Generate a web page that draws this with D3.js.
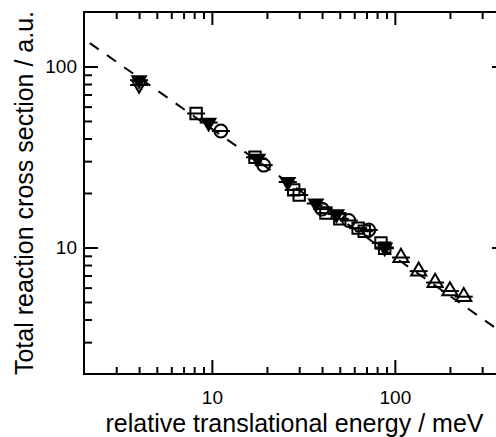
<!DOCTYPE html>
<html>
<head>
<meta charset="utf-8">
<script src="https://cdn.jsdelivr.net/npm/d3@7"></script>
<style>
  body { margin: 0; background: #fff; }
  svg { display: block; font-family: "Liberation Sans", Arial, sans-serif; }
</style>
</head>
<body>
<div id="chart"></div>
<script>
// energies in meV, cross sections in a.u.
const downFilledE = [4.0, 9.6, 17.8, 26, 37, 48, 88]
const downFilledS = [84, 49, 31, 23, 17.5, 15.3, 10.0]
const downOpenE = [4.0]
const downOpenS = [79]
const squareE = [8.2, 17.2, 28, 30, 42, 50, 63, 68, 84, 88]
const squareS = [55, 31.5, 20.8, 19.5, 15.5, 14.4, 12.8, 12.3, 10.6, 9.9]
const circleE = [11.2, 19.2, 40, 56, 72]
const circleS = [44, 28.5, 16.3, 14.1, 12.5]
const upOpenE = [108, 135, 166, 200, 238]
const upOpenS = [8.8, 7.4, 6.4, 5.75, 5.35]

// dashed fit line endpoints
const fitE = [2.15, 400]
const fitS = [134.7, 3.3]

const xMajor = [10, 100]
const xMinor = [3, 4, 5, 6, 7, 8, 9, 20, 30, 40, 50, 60, 70, 80, 90, 200, 300]
const yMajor = [10, 100]
const yMinor = [3, 4, 5, 6, 7, 8, 9, 20, 30, 40, 50, 60, 70, 80, 90]

const width = 496, height = 437
const margin = {left: 84, top: 12, right: -9, bottom: 63}
const w = width - margin.left - margin.right
const h = height - margin.top - margin.bottom

const svg = d3.select("#chart").append("svg")
    .attr("width", width)
    .attr("height", height)
    .style("overflow", "hidden")

const g = svg.append("g")
    .attr("transform", `translate(${margin.left}, ${margin.top})`)

const x = d3.scaleLog().domain([2, 400]).range([0, w])
const y = d3.scaleLog().domain([2, 200]).range([h, 0])

function zip(a, b) { return a.map((v, i) => ({e: v, s: b[i]})) }

// clip for the dashed line
g.append("clipPath").attr("id", "clip")
    .append("rect").attr("width", w).attr("height", h)

// axes: major and minor ticks, all pointing inward
function ticks(axis, vals, size, labels) {
    return axis.tickValues(vals).tickSizeInner(size).tickSizeOuter(0)
        .tickFormat(labels ? d3.format("d") : "")
}

const axes = [
    [d3.axisBottom(x), xMajor, -14, true, `translate(0,${h})`, 17],
    [d3.axisBottom(x), xMinor, -7, false, `translate(0,${h})`, 0],
    [d3.axisTop(x), xMajor, -13, false, "translate(0,0)", 0],
    [d3.axisTop(x), xMinor, -7, false, "translate(0,0)", 0],
    [d3.axisLeft(y), yMajor, -14, true, "translate(0,0)", 7],
    [d3.axisLeft(y), yMinor, -8, false, "translate(0,0)", 0],
    [d3.axisRight(y), yMajor, -13, false, `translate(${w},0)`, 0],
    [d3.axisRight(y), yMinor, -7, false, `translate(${w},0)`, 0]
]
axes.forEach(function(a) {
    const ax = g.append("g")
        .attr("transform", a[4])
        .call(ticks(a[0], a[1], a[2], a[3]).tickPadding(a[5]))
    ax.select(".domain").remove()
    ax.selectAll("line").attr("stroke", "#000").attr("stroke-width", 2)
    ax.selectAll("text").attr("fill", "#000").style("font-size", "19px")
})

g.append("rect")
    .attr("width", w).attr("height", h)
    .attr("fill", "none").attr("stroke", "#000").attr("stroke-width", 2)

// fit line
const line = d3.line().x(d => x(d.e)).y(d => y(d.s))
g.append("path")
    .datum(zip(fitE, fitS))
    .attr("clip-path", "url(#clip)")
    .attr("d", line)
    .attr("fill", "none")
    .attr("stroke", "#000")
    .attr("stroke-width", 2)
    .attr("stroke-dasharray", "11,10")

// markers
function drawSeries(es, ss, type, size, filled, rot) {
    const pts = g.append("g").selectAll("g").data(zip(es, ss)).enter().append("g")
        .attr("transform", d => `translate(${x(d.e)},${y(d.s)})`)
    pts.append("line")
        .attr("x1", -9).attr("x2", 9)
        .attr("stroke", "#000").attr("stroke-width", 2)
    pts.append("path")
        .attr("d", d3.symbol().type(type).size(size))
        .attr("transform", `rotate(${rot})`)
        .attr("fill", filled ? "#000" : "none")
        .attr("stroke", "#000")
        .attr("stroke-width", 2)
}

drawSeries(downOpenE, downOpenS, d3.symbolTriangle, 80, false, 180)
drawSeries(squareE, squareS, d3.symbolSquare, 130, false, 0)
drawSeries(circleE, circleS, d3.symbolCircle, 130, false, 0)
drawSeries(upOpenE, upOpenS, d3.symbolTriangle, 100, false, 0)
drawSeries(downFilledE, downFilledS, d3.symbolTriangle, 80, true, 180)

// axis titles
svg.append("text")
    .attr("x", margin.left + w / 2)
    .attr("y", 432)
    .attr("text-anchor", "middle")
    .style("font-size", "25px")
    .text("relative translational energy / meV")

svg.append("text")
    .attr("transform", `translate(33, ${margin.top + h / 2}) rotate(-90)`)
    .attr("text-anchor", "middle")
    .style("font-size", "25px")
    .text("Total reaction cross section / a.u.")
</script>
</body>
</html>
